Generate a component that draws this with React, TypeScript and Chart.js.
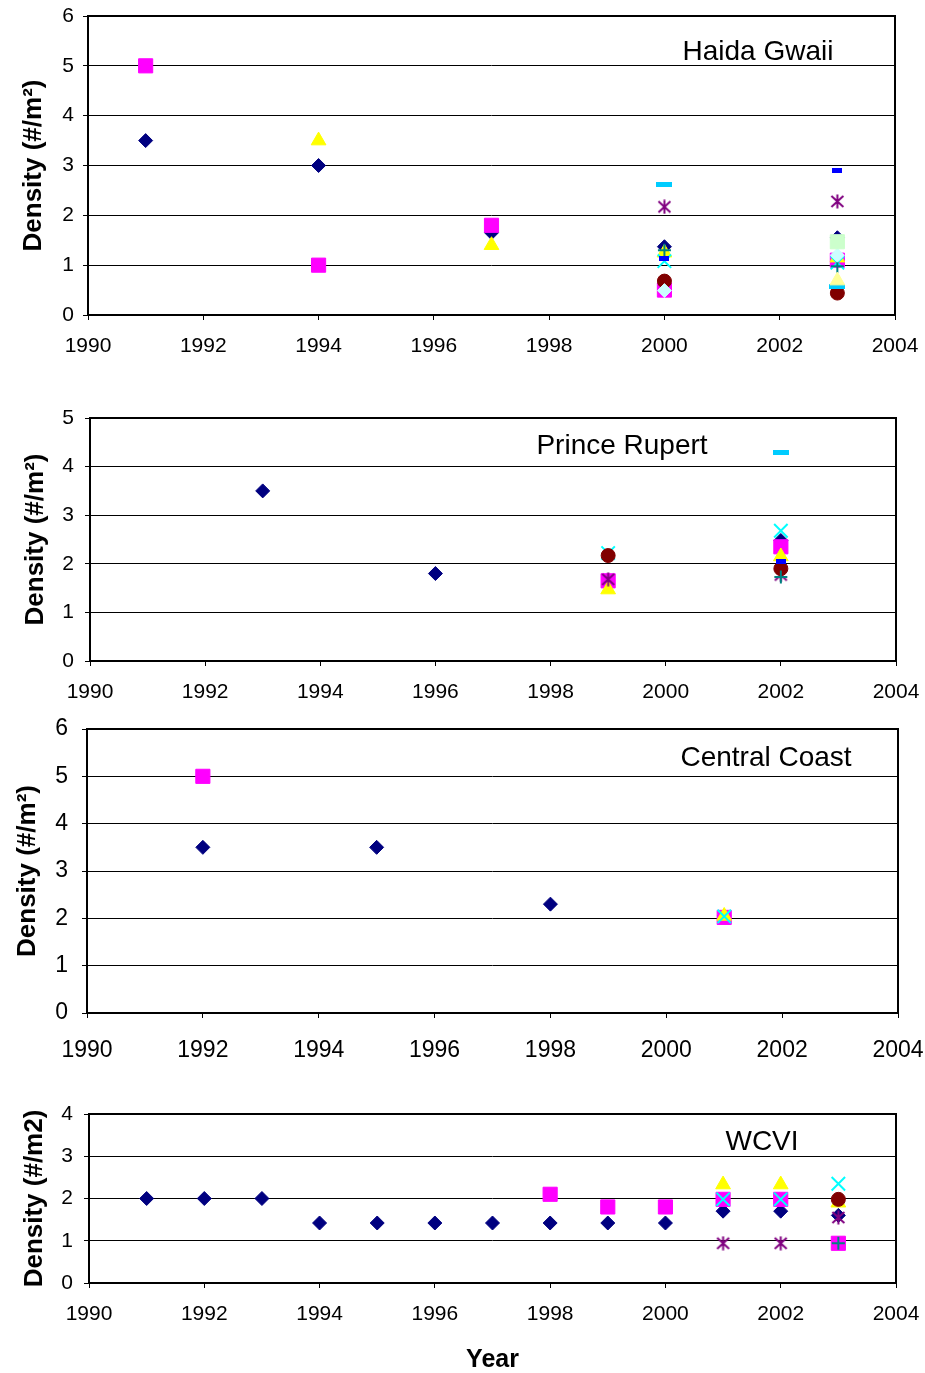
import React, { useEffect, useRef } from "react";
import { Chart, registerables } from "chart.js";
Chart.register(...registerables);

// ---------------- DATA ----------------
const X_MIN = 1990;
const X_MAX = 2004;
const X_STEP = 2;

const haidaTitle = "Haida Gwaii";
const haidaYMax = 6;
const haidaNavy = [[1991, 3.5], [1994, 3.0], [1997, 1.65], [2000, 1.37], [2003, 1.55]];
const haidaMagenta = [[1991, 5.0], [1994, 1.0], [1997, 1.8], [2000, 0.5], [2003, 1.1]];
const haidaYellow = [[1994, 3.5], [1997, 1.4], [2000, 1.25], [2003, 1.15]];
const haidaCyan = [[2000, 1.08], [2003, 1.05]];
const haidaPurple = [[2000, 2.17], [2003, 2.28]];
const haidaMaroon = [[2000, 0.68], [2003, 0.44]];
const haidaTeal = [[2000, 1.3], [2003, 0.98]];
const haidaBlue = [[2000, 1.13], [2003, 2.9]];
const haidaSky = [[2000, 2.62], [2003, 0.57]];
const haidaLightTurq = [[2000, 0.49], [2003, 1.2]];
const haidaLightGreen = [[2003, 1.47]];
const haidaLightYellow = [[2003, 0.69]];

const rupertTitle = "Prince Rupert";
const rupertYMax = 5;
const rupertNavy = [[1993, 3.5], [1996, 1.8], [2002, 2.48]];
const rupertMagenta = [[1999, 1.65], [2002, 2.35]];
const rupertYellow = [[1999, 1.47], [2002, 2.15]];
const rupertCyan = [[1999, 2.22], [2002, 2.68]];
const rupertPurple = [[1999, 1.68], [2002, 1.77]];
const rupertMaroon = [[1999, 2.17], [2002, 1.9]];
const rupertTeal = [[2002, 1.73]];
const rupertBlue = [[2002, 2.04]];
const rupertSky = [[2002, 4.3]];

const centralTitle = "Central Coast";
const centralYMax = 6;
const centralNavy = [[1992, 3.5], [1995, 3.5], [1998, 2.3], [2001, 2.05]];
const centralMagenta = [[1992, 5.0], [2001, 2.02]];
const centralYellow = [[2001, 2.05]];
const centralCyan = [[2001, 2.04]];

const wcviTitle = "WCVI";
const wcviYMax = 4;
const wcviNavy = [[1991, 2.0], [1992, 2.0], [1993, 2.0], [1994, 1.42], [1995, 1.42], [1996, 1.42], [1997, 1.42], [1998, 1.42], [1999, 1.42], [2000, 1.42], [2001, 1.7], [2002, 1.7], [2003, 1.6]];
const wcviMagenta = [[1998, 2.1], [1999, 1.8], [2000, 1.8], [2001, 1.98], [2002, 1.98], [2003, 0.94]];
const wcviYellow = [[2001, 2.33], [2002, 2.33], [2003, 1.9]];
const wcviCyan = [[2001, 1.98], [2002, 1.98], [2003, 2.35]];
const wcviPurple = [[2001, 0.94], [2002, 0.94], [2003, 1.55]];
const wcviMaroon = [[2003, 1.98]];
const wcviTeal = [[2003, 0.94]];

const yLabelSup = "Density (#/m\u00B2)";
const yLabelPlain = "Density (#/m2)";
const xLabel = "Year";

// ---------------- STYLES ----------------
const FONT = '"Liberation Sans", Arial, Helvetica, sans-serif';

const MARKERS = [
  { kind: "rectRot", color: "#000080" },
  { kind: "rect", color: "#FF00FF" },
  { kind: "triangle", color: "#FFFF00" },
  { kind: "crossRot", color: "#00FFFF" },
  { kind: "star", color: "#800080" },
  { kind: "circle", color: "#800000" },
  { kind: "cross", color: "#008080" },
  { kind: "dashShort", color: "#0000FF" },
  { kind: "dashLong", color: "#00CCFF" },
  { kind: "rectRot", color: "#CCFFFF" },
  { kind: "rect", color: "#CCFFCC" },
  { kind: "triangle", color: "#FFFF99" },
];

function makeImage(kind: string, color: string): HTMLCanvasElement {
  const c = document.createElement("canvas");
  if (kind === "star") {
    c.width = 15;
    c.height = 15;
    const g = c.getContext("2d")!;
    g.strokeStyle = color;
    g.lineWidth = 2;
    g.beginPath();
    g.moveTo(7.5, 0.5);
    g.lineTo(7.5, 14.5);
    g.moveTo(1.5, 2);
    g.lineTo(13.5, 13);
    g.moveTo(13.5, 2);
    g.lineTo(1.5, 13);
    g.stroke();
  } else {
    const w = kind === "dashShort" ? 10 : 16;
    c.width = w;
    c.height = 5;
    const g = c.getContext("2d")!;
    g.fillStyle = color;
    g.fillRect(0, 0, w, 5);
  }
  return c;
}

function makeDataset(points: number[][], i: number) {
  const m = MARKERS[i];
  const base: any = {
    data: points.map(([x, y]) => ({ x, y })),
    showLine: false,
    order: -i,
    backgroundColor: m.color,
    borderColor: m.color,
    pointBackgroundColor: m.color,
    pointBorderColor: m.color,
    pointBorderWidth: 1,
  };
  switch (m.kind) {
    case "rectRot":
      return { ...base, pointStyle: "rectRot", pointRadius: 7 };
    case "rect":
      return { ...base, pointStyle: "rect", pointRadius: 10 };
    case "triangle":
      return { ...base, pointStyle: "triangle", pointRadius: 8.5 };
    case "crossRot":
      return { ...base, pointStyle: "crossRot", pointRadius: 9.5, pointBorderWidth: 2 };
    case "circle":
      return { ...base, pointStyle: "circle", pointRadius: 7 };
    case "cross":
      return { ...base, pointStyle: "cross", pointRadius: 6.5, pointBorderWidth: 2 };
    default:
      return { ...base, pointStyle: makeImage(m.kind, m.color), pointRadius: 7 };
  }
}

const PANELS = [
  {
    title: haidaTitle, yMax: haidaYMax, yLabel: yLabelSup, xTitle: "",
    series: [haidaNavy, haidaMagenta, haidaYellow, haidaCyan, haidaPurple, haidaMaroon, haidaTeal, haidaBlue, haidaSky, haidaLightTurq, haidaLightGreen, haidaLightYellow],
    top: 0, height: 375, left: 88, right: 895, plotTop: 16, plotBottom: 315,
    titleDX: 670, titleDY: 36, tickSize: 21, yTickPad: 9, xTickPad: 14, yTitlePad: 18,
  },
  {
    title: rupertTitle, yMax: rupertYMax, yLabel: yLabelSup, xTitle: "",
    series: [rupertNavy, rupertMagenta, rupertYellow, rupertCyan, rupertPurple, rupertMaroon, rupertTeal, rupertBlue, rupertSky],
    top: 395, height: 320, left: 90, right: 896, plotTop: 418, plotBottom: 661,
    titleDX: 532, titleDY: 28, tickSize: 21, yTickPad: 11, xTickPad: 13.5, yTitlePad: 20,
  },
  {
    title: centralTitle, yMax: centralYMax, yLabel: yLabelSup, xTitle: "",
    series: [centralNavy, centralMagenta, centralYellow, centralCyan],
    top: 715, height: 365, left: 87, right: 898, plotTop: 729, plotBottom: 1013,
    titleDX: 679, titleDY: 29, tickSize: 23, yTickPad: 14, xTickPad: 19, yTitlePad: 12,
  },
  {
    title: wcviTitle, yMax: wcviYMax, yLabel: yLabelPlain, xTitle: xLabel,
    series: [wcviNavy, wcviMagenta, wcviYellow, wcviCyan, wcviPurple, wcviMaroon, wcviTeal],
    top: 1085, height: 288, left: 89, right: 896, plotTop: 1114, plotBottom: 1283,
    titleDX: 673, titleDY: 28, tickSize: 21, yTickPad: 11, xTickPad: 13.5, yTitlePad: 19,
  },
];

function Panel({ cfg }: { cfg: any }) {
  const ref = useRef<HTMLCanvasElement | null>(null);
  useEffect(() => {
    const canvas = ref.current!;
    const framePlugin = {
      id: "frame",
      beforeDatasetsDraw(chart: any) {
        const { ctx, chartArea } = chart;
        const { left, top, right, bottom } = chartArea;
        ctx.save();
        ctx.strokeStyle = "#000";
        ctx.lineWidth = 2;
        ctx.strokeRect(left, top, right - left, bottom - top);
        ctx.fillStyle = "#000";
        ctx.font = `28px ${FONT}`;
        ctx.textAlign = "center";
        ctx.textBaseline = "middle";
        ctx.fillText(cfg.title, left + cfg.titleDX, top + cfg.titleDY);
        ctx.restore();
      },
    };
    const zeroPad = (s: any) => {
      s.paddingLeft = 0;
      s.paddingRight = 0;
      s.paddingTop = 0;
      s.paddingBottom = 0;
    };
    const chart = new Chart(canvas, {
      type: "scatter",
      data: { datasets: cfg.series.map((s: number[][], i: number) => makeDataset(s, i)) },
      options: {
        animation: false,
        responsive: false,
        devicePixelRatio: 1,
        layout: {
          padding: { left: 0, right: 925 - cfg.right, top: cfg.plotTop - cfg.top, bottom: 0 },
        },
        plugins: { legend: { display: false }, tooltip: { enabled: false }, title: { display: false } },
        scales: {
          x: {
            type: "linear",
            min: X_MIN,
            max: X_MAX,
            ticks: {
              stepSize: X_STEP,
              color: "#000",
              font: { family: FONT, size: cfg.tickSize },
              padding: cfg.xTickPad,
              callback: (v: any) => String(v),
              maxRotation: 0,
            },
            grid: { drawOnChartArea: false, drawTicks: true, tickLength: 5, color: "#000" },
            border: { display: false },
            title: {
              display: !!cfg.xTitle,
              text: cfg.xTitle,
              color: "#000",
              font: { family: FONT, size: 25, weight: "bold" },
              padding: { top: 0, bottom: -2 },
            },
            afterFit: (s: any) => {
              s.height = cfg.top + cfg.height - cfg.plotBottom;
              zeroPad(s);
            },
          },
          y: {
            min: 0,
            max: cfg.yMax,
            ticks: {
              stepSize: 1,
              color: "#000",
              font: { family: FONT, size: cfg.tickSize },
              padding: cfg.yTickPad,
            },
            grid: { color: "#000", lineWidth: 1, tickLength: 5 },
            border: { display: false },
            title: {
              display: true,
              text: cfg.yLabel,
              color: "#000",
              font: { family: FONT, size: 26, weight: "bold" },
              padding: { top: cfg.yTitlePad, bottom: 0 },
            },
            afterFit: (s: any) => {
              s.width = cfg.left;
              zeroPad(s);
            },
          },
        },
      } as any,
      plugins: [framePlugin],
    });
    return () => chart.destroy();
  }, [cfg]);
  return (
    <canvas
      ref={ref}
      width={925}
      height={cfg.height}
      style={{ position: "absolute", left: 0, top: cfg.top, width: 925, height: cfg.height }}
    />
  );
}

export default function App() {
  return (
    <div style={{ position: "absolute", left: 0, top: 0, width: 925, height: 1373, background: "#fff" }}>
      {PANELS.map((p, i) => (
        <Panel key={i} cfg={p} />
      ))}
    </div>
  );
}
